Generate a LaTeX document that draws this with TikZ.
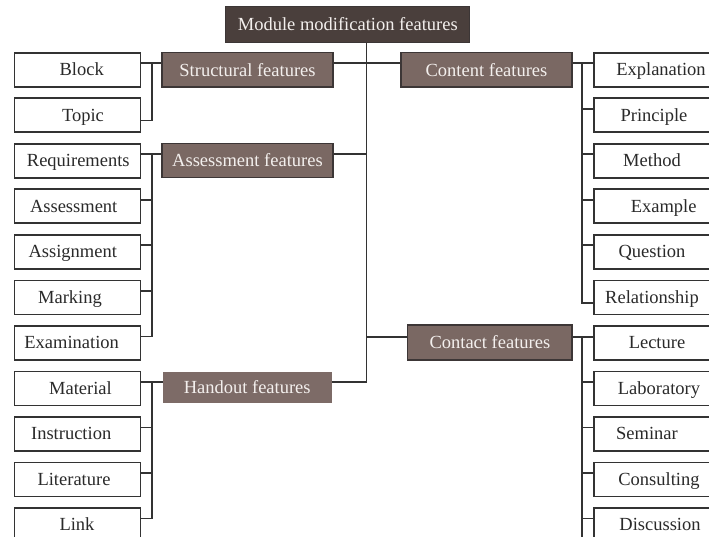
\documentclass[tikz,border=0pt]{standalone}
\usepackage{fontspec}
\setmainfont{Liberation Serif}
\definecolor{topfill}{HTML}{4A3F3C}
\definecolor{featfill}{HTML}{7A6863}
\definecolor{handfill}{HTML}{7D6B67}
\definecolor{featline}{HTML}{3C3636}
\definecolor{ink}{HTML}{333333}
\definecolor{leafink}{HTML}{2A2A2A}
\definecolor{lighttext}{HTML}{F3EFED}
\begin{document}
\begin{tikzpicture}[x=1pt,y=1pt,
  fnt/.style={font=\fontsize{18.5}{20}\selectfont},
  leafbox/.style={draw=ink,line width=1.6pt,fill=white,minimum width=126pt,minimum height=34pt,inner sep=0pt},
  leaftext/.style={fnt,anchor=base,inner sep=0pt,text=leafink},
  featbox/.style={fnt,draw=featline,line width=1.2pt,fill=featfill,inner sep=0pt,text=lighttext,minimum width=171pt,minimum height=34.5pt},
  conn/.style={draw=ink,line width=1.6pt}]
\useasboundingbox (0,0) rectangle (709,-537);
\clip (0,0) rectangle (709,-537);

% top node
\node[fnt,draw=featline,line width=1pt,fill=topfill,text=lighttext,inner sep=0pt,minimum width=244.3pt,minimum height=35.6pt] (top) at (347.8,-24.5) {Module modification features};

% feature nodes
\node[featbox] (sf) at (247.5,-69.8) {Structural features};
\node[featbox] (af) at (247.5,-160.5) {Assessment features};
\node[fnt,fill=handfill,inner sep=0pt,text=lighttext,minimum width=169pt,minimum height=31.6pt] (hf) at (247.2,-387.5) {Handout features};
\node[featbox] (cf) at (486.5,-69.8) {Content features};
\node[featbox,minimum width=164.3pt,minimum height=35pt] (ct) at (489.9,-342.5) {Contact features};

% left leaves
\foreach \n/\c/\tx/\t in {b1/69.8/81.7/Block, b2/115.3/83/Topic, b3/160.8/78.3/Requirements,
  b4/206.3/73.7/Assessment, b5/251.8/72.8/Assignment, b6/297.3/70/Marking,
  b7/342.8/71.7/Examination, b8/388.3/80.5/Material, b9/433.8/71.2/Instruction,
  b10/479.3/74/Literature, b11/524.8/77/Link}{
  \node[leafbox] (\n) at (77.3,-\c) {};
  \node[leaftext] (t\n) at (\tx,-\c-6) {\t};
}
% right leaves
\foreach \n/\c/\tx/\t in {r1/69.8/661/Explanation, r2/115.3/654/Principle, r3/160.8/652/Method,
  r4/206.3/663.7/Example, r5/251.8/652/Question, r6/297.3/652/Relationship,
  r7/342.8/657/Lecture, r8/388.3/659/Laboratory, r9/433.8/647/Seminar,
  r10/479.3/659/Consulting, r11/524.8/660/Discussion}{
  \node[leafbox] (\n) at (657,-\c) {};
  \node[leaftext] (t\n) at (\tx,-\c-6) {\t};
}

% trunk
\coordinate (tr) at (366.5,-381.8);
\draw[conn] ([xshift=18.7pt]top.south) -- (tr);
\draw[conn] ([yshift=6.5pt]sf.east) -| (tr);
\draw[conn] ([yshift=6.2pt]af.east) -| (tr);
\draw[conn] ([yshift=5.7pt]hf.east) -- (tr);
\draw[conn] ([yshift=6.5pt]cf.west) -| (tr);
\draw[conn] ([yshift=5.8pt]ct.west) -| (tr);

% structural group
\draw[conn] ([yshift=6.5pt]b1.east) -- ([yshift=6.5pt]sf.west);
\draw[conn] ([yshift=6.5pt,xshift=11pt]b1.east) |- ([yshift=-5.4pt]b2.east);
% assessment group
\draw[conn] ([yshift=6.5pt]b3.east) -- ([yshift=6.2pt]af.west);
\draw[conn] ([yshift=6.5pt,xshift=11pt]b3.east) |- ([yshift=6.5pt]b7.east);
\foreach \n in {b4,b5,b6}{\draw[conn] ([yshift=6.5pt]\n.east) -- ++(11,0);}
% handout group
\draw[conn] ([yshift=6.5pt]b8.east) -- ([yshift=5.7pt]hf.west);
\draw[conn] ([yshift=6.5pt,xshift=11pt]b8.east) |- ([yshift=6.5pt]b11.east);
\foreach \n in {b9,b10}{\draw[conn] ([yshift=6.5pt]\n.east) -- ++(11,0);}

% content group
\draw[conn] ([yshift=6.5pt]cf.east) -- ([yshift=6.5pt]r1.west);
\draw[conn] ([yshift=6.5pt,xshift=-11.3pt]r1.west) |- ([yshift=-5.4pt]r6.west);
\foreach \n in {r2,r3,r4,r5}{\draw[conn] ([yshift=6.5pt]\n.west) -- ++(-11.3,0);}
% contact group
\draw[conn] ([yshift=5.8pt]ct.east) -- ([yshift=6.1pt]r7.west);
\draw[conn] ([yshift=6.1pt,xshift=-11.3pt]r7.west) -- ++(0,-215);
\foreach \n in {r8,r9,r10,r11}{\draw[conn] ([yshift=6.5pt]\n.west) -- ++(-11.3,0);}
\end{tikzpicture}
\end{document}
